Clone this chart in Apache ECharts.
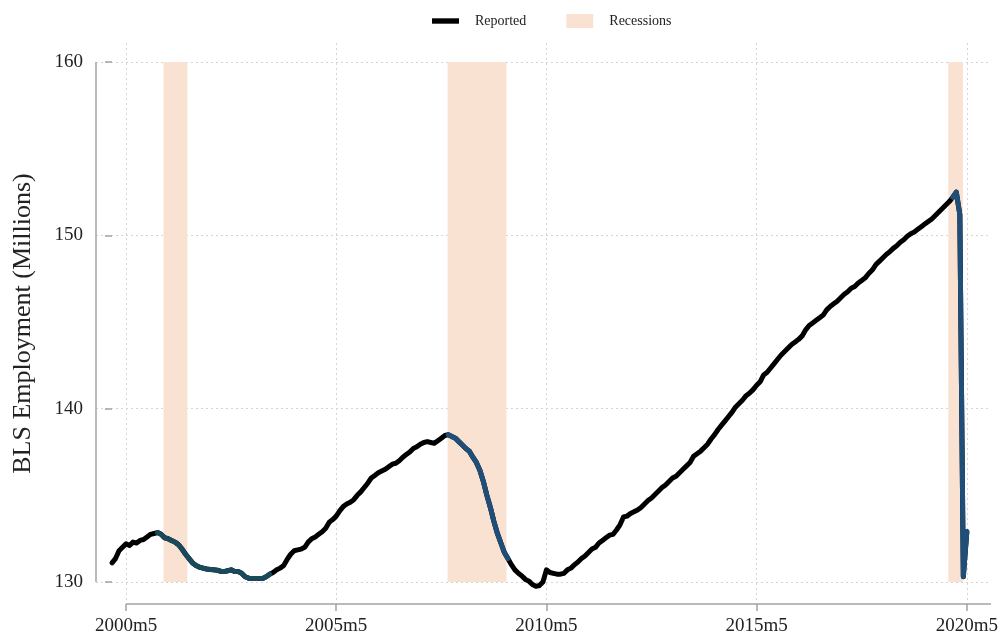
<!DOCTYPE html>
<html>
<head>
<meta charset="utf-8">
<script src="https://cdn.jsdelivr.net/npm/echarts@6/dist/echarts.min.js"></script>
<style>
html,body{margin:0;padding:0;background:#fff;}
#chart{width:1003px;height:643px;}
</style>
</head>
<body>
<div id="chart"></div>
<script>
// ---- data ----
const startMonth = '2000m1';
// BLS employment (millions), monthly 2000m1 .. 2020m5
const reported = [
  // 2000
  131.1, 131.35, 131.8, 132.0, 132.2, 132.1, 132.3, 132.25, 132.4, 132.45, 132.6, 132.75,
  // 2001
  132.8, 132.85, 132.75, 132.55, 132.5, 132.4, 132.3, 132.15, 131.9, 131.6, 131.35, 131.1,
  // 2002
  130.95, 130.85, 130.8, 130.75, 130.72, 130.7, 130.68, 130.62, 130.6, 130.65, 130.7, 130.6,
  // 2003
  130.6, 130.5, 130.3, 130.22, 130.2, 130.2, 130.2, 130.2, 130.3, 130.45, 130.55, 130.7,
  // 2004
  130.8, 130.95, 131.3, 131.6, 131.8, 131.85, 131.9, 132.0, 132.3, 132.5, 132.6, 132.75,
  // 2005
  132.9, 133.1, 133.45, 133.6, 133.8, 134.1, 134.35, 134.5, 134.6, 134.75, 135.0, 135.2,
  // 2006
  135.45, 135.7, 136.0, 136.15, 136.3, 136.4, 136.5, 136.65, 136.8, 136.85, 137.0, 137.2,
  // 2007
  137.35, 137.5, 137.7, 137.8, 137.95, 138.05, 138.1, 138.05, 138.0, 138.15, 138.3, 138.45,
  // 2008
  138.5, 138.4, 138.3, 138.1, 137.9, 137.7, 137.55, 137.2, 136.9, 136.45, 135.8, 135.0,
  // 2009
  134.3, 133.5, 132.8, 132.25, 131.7, 131.35, 131.0, 130.7, 130.5, 130.35, 130.15, 130.05,
  // 2010
  129.85, 129.75, 129.8, 130.0, 130.7, 130.55, 130.5, 130.45, 130.45, 130.5, 130.7, 130.8,
  // 2011
  131.0, 131.15, 131.35, 131.5, 131.7, 131.9, 132.0, 132.25, 132.4, 132.55, 132.7, 132.75,
  // 2012
  133.0, 133.3, 133.75, 133.8, 133.95, 134.05, 134.15, 134.3, 134.5, 134.7, 134.85, 135.05,
  // 2013
  135.25, 135.45, 135.6, 135.8, 136.0, 136.1, 136.3, 136.5, 136.7, 136.9, 137.25, 137.4,
  // 2014
  137.55, 137.75, 137.95, 138.25, 138.5, 138.8, 139.05, 139.3, 139.55, 139.8, 140.1, 140.3,
  // 2015
  140.5, 140.75, 140.9, 141.1, 141.35, 141.55, 141.95, 142.1, 142.35, 142.6, 142.85, 143.1,
  // 2016
  143.3, 143.5, 143.7, 143.85, 144.0, 144.2, 144.55, 144.8, 144.95, 145.1, 145.25, 145.4,
  // 2017
  145.7, 145.9, 146.05, 146.2, 146.4, 146.6, 146.75, 146.95, 147.05, 147.25, 147.4, 147.55,
  // 2018
  147.8, 148.0, 148.3, 148.5, 148.7, 148.9, 149.05, 149.25, 149.4, 149.6, 149.75, 149.95,
  // 2019
  150.1, 150.2, 150.35, 150.5, 150.65, 150.8, 150.95, 151.15, 151.35, 151.55, 151.75, 151.95,
  // 2020
  152.2, 152.5, 151.2, 130.3, 132.9
];
// highlighted (downturn) stretches of the line
const highlightSegments = [['2001m2', '2003m10'], ['2008m1', '2009m6'], ['2020m1', '2020m5']];
const highlightColors = ['#19495b', '#1f4e79', '#1f4e79'];
// recession shading, in fractional month positions
const recessionSpans = [[14.7, 21.5], [95.8, 112.6], [238.7, 242.9]];
const recessionRange = [130, 160];
const xTickLabels = ['2000m5', '2005m5', '2010m5', '2015m5', '2020m5'];
const yTicks = [130, 140, 150, 160];
const xRange = [-4.57, 250.9];
const yRange = [128.73, 161.1];

// ---- helpers ----
function monthIndex(s) {
  const [y, m] = s.split('m').map(Number);
  const [y0, m0] = startMonth.split('m').map(Number);
  return (y - y0) * 12 + (m - m0);
}
const labelByIndex = {};
xTickLabels.forEach(l => labelByIndex[monthIndex(l)] = l);
const xTicks = xTickLabels.map(monthIndex);

const reportedData = reported.map((v, i) => [i, v]);

const FONT = "'Liberation Serif', 'Times New Roman', serif";
const AXIS = '#a3a3a3';
const GRID = '#d4d4d4';
const PEACH = '#f9e2d2';
const LW = 5;

const hlSeries = highlightSegments.map((seg, k) => ({
  type: 'line',
  name: 'hl' + k,
  data: reportedData.slice(monthIndex(seg[0]), monthIndex(seg[1]) + 1),
  showSymbol: false,
  symbol: 'none',
  lineStyle: { color: highlightColors[k], width: LW, join: 'round', cap: 'round' },
  itemStyle: { color: highlightColors[k] },
  silent: true,
  z: 4
}));

const option = {
  animation: false,
  backgroundColor: '#fff',
  grid: { left: 96, right: 12, top: 43, bottom: 39, containLabel: false },
  legend: {
    left: 427, top: 9,
    itemWidth: 27, itemHeight: 14, itemGap: 40,
    symbolKeepAspect: true,
    textStyle: { fontFamily: FONT, fontSize: 14, color: '#222', padding: [0, 0, 0, 11] },
    data: [
      { name: 'Reported', icon: 'path://M0,0H25V5H0Z' },
      { name: 'Recessions', icon: 'rect' }
    ]
  },
  xAxis: {
    type: 'value',
    min: xRange[0], max: xRange[1],
    axisLine: { show: false },
    axisTick: { show: true, customValues: xTicks, length: 7, lineStyle: { color: AXIS, width: 1.5 } },
    axisLabel: {
      customValues: xTicks,
      formatter: v => labelByIndex[Math.round(v)] || '',
      fontFamily: FONT, fontSize: 19, color: '#222', margin: 13
    },
    splitLine: { show: true, lineStyle: { color: GRID, type: [2, 3], width: 1 } }
  },
  yAxis: {
    type: 'value',
    min: yRange[0], max: yRange[1],
    name: 'BLS Employment (Millions)',
    nameLocation: 'middle',
    nameGap: 60,
    nameTextStyle: { fontFamily: FONT, fontSize: 26, color: '#222' },
    axisLine: { show: false },
    axisTick: { show: true, customValues: yTicks, length: 7, lineStyle: { color: AXIS, width: 1.5 } },
    axisLabel: {
      customValues: yTicks,
      fontFamily: FONT, fontSize: 19, color: '#222', margin: 13
    },
    splitLine: { show: true, lineStyle: { color: GRID, type: [2, 3], width: 1 } }
  },
  series: [
    {
      type: 'line',
      name: 'Recessions',
      data: [],
      itemStyle: { color: PEACH },
      lineStyle: { color: PEACH },
      silent: true,
      z: 1,
      markArea: {
        silent: true,
        itemStyle: { color: PEACH, opacity: 1 },
        data: recessionSpans.map(s => [
          { coord: [s[0], recessionRange[0]] },
          { coord: [s[1], recessionRange[1]] }
        ])
      }
    },
    {
      type: 'line',
      name: 'axes',
      data: [],
      silent: true,
      clip: false,
      z: 2,
      markLine: {
        silent: true,
        symbol: ['none', 'none'],
        label: { show: false },
        lineStyle: { color: AXIS, width: 1.5, type: 'solid' },
        data: [
          [{ coord: [xRange[0], yTicks[0]] }, { coord: [xRange[0], yTicks[yTicks.length - 1]] }],
          [{ coord: [xTicks[0], yRange[0]] }, { coord: [xRange[1], yRange[0]] }]
        ]
      }
    },
    {
      type: 'line',
      name: 'Reported',
      data: reportedData,
      showSymbol: false,
      symbol: 'none',
      lineStyle: { color: '#000', width: LW, join: 'round', cap: 'round' },
      itemStyle: { color: '#000' },
      silent: true,
      z: 3
    }
  ].concat(hlSeries)
};

const chart = echarts.init(document.getElementById('chart'), null, { renderer: 'canvas' });
chart.setOption(option);
</script>
</body>
</html>
